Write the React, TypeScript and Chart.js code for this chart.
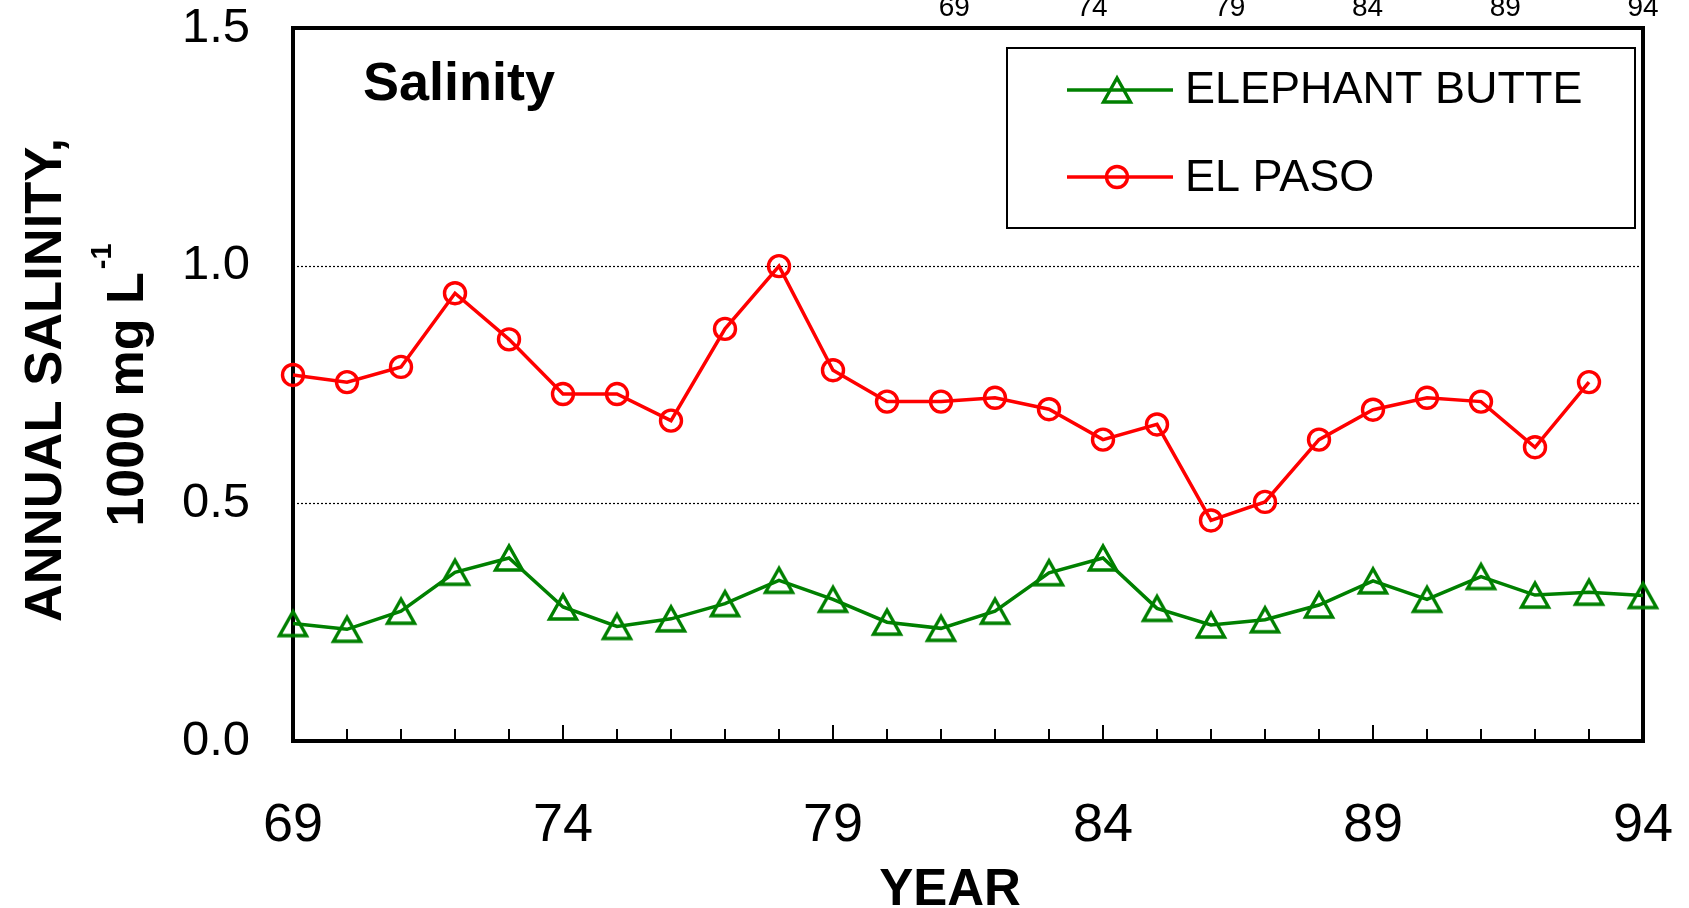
import React, { useEffect, useRef } from "react";
import { Chart, registerables } from "chart.js";

Chart.register(...registerables);

// ---- data ----
const years = [69, 70, 71, 72, 73, 74, 75, 76, 77, 78, 79, 80, 81, 82, 83, 84, 85, 86, 87, 88, 89, 90, 91, 92, 93, 94];
const elephantButte = [0.247, 0.235, 0.273, 0.355, 0.385, 0.282, 0.241, 0.257, 0.289, 0.338, 0.298, 0.250, 0.237, 0.273, 0.354, 0.385, 0.279, 0.244, 0.255, 0.286, 0.337, 0.298, 0.346, 0.307, 0.313, 0.306];
const elPaso = [0.770, 0.755, 0.787, 0.942, 0.845, 0.730, 0.730, 0.674, 0.867, 0.999, 0.780, 0.714, 0.714, 0.722, 0.698, 0.634, 0.666, 0.464, 0.503, 0.634, 0.697, 0.722, 0.714, 0.618, 0.755, null];
const seriesNames = ["ELEPHANT BUTTE", "EL PASO"];
const xTickLabels = [69, 74, 79, 84, 89, 94];
const topTickLabels = [69, 74, 79, 84, 89, 94];
const yTickLabels = [0, 0.5, 1.0, 1.5];
const yGridValues = [0.5, 1.0];
const chartTitle = "Salinity";
const xTitle = "YEAR";
const yTitleLine1 = "ANNUAL SALINITY,";
const yTitleLine2 = "1000 mg L";
const yTitleSup = "-1";

const GREEN = "#008000";
const RED = "#FF0000";
const FONT = "'Liberation Sans', Arial, sans-serif";

function makeTriangle(color: string): HTMLCanvasElement {
  const c = document.createElement("canvas");
  c.width = 36;
  c.height = 36;
  const g = c.getContext("2d")!;
  g.strokeStyle = color;
  g.lineWidth = 3.4;
  g.lineJoin = "miter";
  g.beginPath();
  g.moveTo(18, 6);
  g.lineTo(4.5, 30);
  g.lineTo(31.5, 30);
  g.closePath();
  g.stroke();
  return c;
}

const fixPad = (s: any) => {
  s.paddingTop = 0;
  s.paddingBottom = 0;
  s.paddingLeft = 0;
  s.paddingRight = 0;
};

export default function App() {
  const ref = useRef<HTMLCanvasElement | null>(null);

  useEffect(() => {
    if (!ref.current) return;
    const tri = makeTriangle(GREEN);

    const decor = {
      id: "decor",
      beforeDatasetsDraw(chart: any) {
        const { ctx, chartArea: a, scales } = chart;
        ctx.save();
        // dotted gridlines
        ctx.strokeStyle = "#000";
        ctx.lineWidth = 1.2;
        ctx.setLineDash([2, 2]);
        yGridValues.forEach((v) => {
          const py = Math.round(scales.y.getPixelForValue(v)) + 0.5;
          ctx.beginPath();
          ctx.moveTo(a.left, py);
          ctx.lineTo(a.right, py);
          ctx.stroke();
        });
        ctx.setLineDash([]);
        // inward minor/major ticks on x axis
        ctx.lineWidth = 2;
        years.forEach((yr, i) => {
          if (i === 0 || i === years.length - 1) return;
          const px = scales.x.getPixelForValue(yr);
          const len = xTickLabels.includes(yr) ? 16 : 12;
          ctx.beginPath();
          ctx.moveTo(px, a.bottom);
          ctx.lineTo(px, a.bottom - len);
          ctx.stroke();
        });
        // frame
        ctx.lineWidth = 4;
        ctx.strokeRect(a.left, a.top, a.right - a.left, a.bottom - a.top);
        ctx.restore();
      },
      afterDraw(chart: any) {
        const { ctx } = chart;
        ctx.save();
        ctx.fillStyle = "#000";
        // chart title
        ctx.font = `bold 54px ${FONT}`;
        ctx.textAlign = "left";
        ctx.textBaseline = "alphabetic";
        ctx.fillText(chartTitle, 363, 100);
        // x title
        ctx.font = `bold 51px ${FONT}`;
        ctx.textAlign = "center";
        ctx.fillText(xTitle, 950, 905);
        // y title line 1
        ctx.save();
        ctx.translate(61, 380);
        ctx.rotate(-Math.PI / 2);
        ctx.font = `bold 52.5px ${FONT}`;
        ctx.textAlign = "center";
        ctx.fillText(yTitleLine1, 0, 0);
        ctx.restore();
        // y title line 2 with superscript
        ctx.save();
        ctx.translate(143, 385);
        ctx.rotate(-Math.PI / 2);
        ctx.textAlign = "left";
        ctx.font = `bold 52px ${FONT}`;
        const w1 = ctx.measureText(yTitleLine2).width;
        ctx.font = `bold 29px ${FONT}`;
        const w2 = ctx.measureText(yTitleSup).width;
        const start = -(w1 + 3 + w2) / 2;
        ctx.font = `bold 52px ${FONT}`;
        ctx.fillText(yTitleLine2, start, 0);
        ctx.font = `bold 29px ${FONT}`;
        ctx.fillText(yTitleSup, start + w1 + 3, -32);
        ctx.restore();
        // legend
        ctx.strokeStyle = "#000";
        ctx.lineWidth = 2;
        ctx.strokeRect(1007, 48, 628, 180);
        const entries = [
          { color: GREEN, lineY: 90, textY: 91, marker: "tri" },
          { color: RED, lineY: 177, textY: 179, marker: "circle" },
        ];
        entries.forEach((e, i) => {
          ctx.strokeStyle = e.color;
          ctx.lineWidth = 3.5;
          ctx.beginPath();
          ctx.moveTo(1067, e.lineY);
          ctx.lineTo(1173, e.lineY);
          ctx.stroke();
          if (e.marker === "tri") {
            ctx.drawImage(tri, 1117 - tri.width / 2, e.lineY - tri.height / 2);
          } else {
            ctx.lineWidth = 3.4;
            ctx.beginPath();
            ctx.arc(1117, e.lineY, 10.5, 0, Math.PI * 2);
            ctx.stroke();
          }
          ctx.fillStyle = "#000";
          ctx.font = `45px ${FONT}`;
          ctx.textAlign = "left";
          ctx.textBaseline = "middle";
          ctx.fillText(seriesNames[i], 1185, e.textY);
        });
        ctx.restore();
      },
    };

    const chart = new Chart(ref.current, {
      type: "line",
      data: {
        datasets: [
          {
            label: seriesNames[0],
            data: years.map((x, i) => ({ x, y: elephantButte[i] })),
            borderColor: GREEN,
            borderWidth: 3.5,
            pointStyle: tri as any,
            pointRadius: 15,
            pointBackgroundColor: "transparent",
            pointBorderColor: GREEN,
            tension: 0,
            clip: false as any,
          },
          {
            label: seriesNames[1],
            data: years.map((x, i) => ({ x, y: elPaso[i] as any })),
            borderColor: RED,
            borderWidth: 3.5,
            pointStyle: "circle",
            pointRadius: 10.5,
            pointBorderWidth: 3.4,
            pointBackgroundColor: "transparent",
            pointBorderColor: RED,
            tension: 0,
            spanGaps: false,
            clip: false as any,
          },
        ],
      },
      options: {
        animation: false,
        responsive: false,
        devicePixelRatio: 1,
        layout: { padding: { left: 0, right: 46, top: 0, bottom: 0 } },
        plugins: { legend: { display: false }, tooltip: { enabled: false } },
        events: [],
        scales: {
          x: {
            type: "linear",
            position: "bottom",
            min: 69,
            max: 94,
            afterBuildTicks: (s: any) => {
              s.ticks = xTickLabels.map((v) => ({ value: v }));
            },
            afterFit: (s: any) => {
              s.height = 167;
              fixPad(s);
            },
            grid: { display: false, drawTicks: false },
            border: { display: false },
            ticks: {
              color: "#000",
              font: { family: FONT, size: 54, lineHeight: 1 },
              padding: 58,
              maxRotation: 0,
              autoSkip: false,
              callback: (v: any) => String(v),
            },
          },
          x2: {
            type: "linear",
            position: "top",
            min: 45,
            max: 94,
            afterBuildTicks: (s: any) => {
              s.ticks = topTickLabels.map((v) => ({ value: v }));
            },
            afterFit: (s: any) => {
              s.height = 28;
              fixPad(s);
            },
            grid: { display: false, drawTicks: false },
            border: { display: false },
            ticks: {
              color: "#000",
              font: { family: FONT, size: 28, lineHeight: 1 },
              padding: 6,
              maxRotation: 0,
              autoSkip: false,
              callback: (v: any) => String(v),
            },
          },
          y: {
            type: "linear",
            min: 0,
            max: 1.5,
            afterBuildTicks: (s: any) => {
              s.ticks = yTickLabels.map((v) => ({ value: v }));
            },
            afterFit: (s: any) => {
              s.width = 293;
              fixPad(s);
            },
            grid: { display: false, drawTicks: false },
            border: { display: false },
            ticks: {
              color: "#000",
              font: { family: FONT, size: 49, lineHeight: 1 },
              padding: 43,
              callback: (v: any) => Number(v).toFixed(1),
            },
          },
        },
      } as any,
      plugins: [decor],
    });
    return () => chart.destroy();
  }, []);

  return (
    <div style={{ position: "absolute", left: 0, top: 0, width: 1689, height: 908 }}>
      <canvas ref={ref} width={1689} height={908} style={{ width: 1689, height: 908, display: "block" }} />
    </div>
  );
}
